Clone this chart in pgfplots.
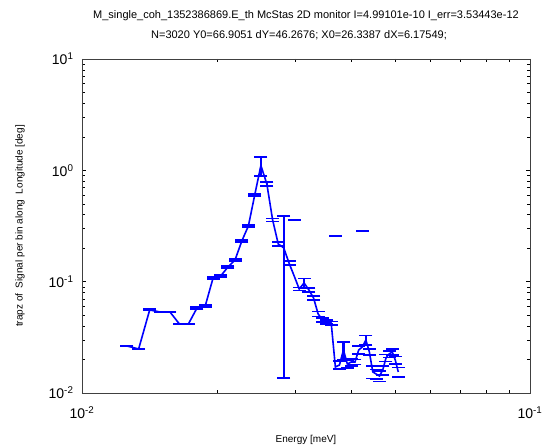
\documentclass[border=0pt]{standalone}
\usepackage{fontspec}
\setmainfont{Liberation Sans}
\usepackage{pgfplots}
\pgfplotsset{compat=1.18}
\usepackage{pgfplotstable}

\pgfplotstableread{
E v e
0.01260 0.02644 0.0003
0.01338 0.02485 0.0003
0.01416 0.05568 0.0008
0.01494 0.05343 0.0007
0.01572 0.05343 0.0007
0.01650 0.04168 0.0005
0.01728 0.04168 0.0005
0.01806 0.05803 0.0015
0.01884 0.06047 0.0012
0.01962 0.1080 0.002
0.02040 0.1125 0.002
0.02118 0.1356 0.003
0.02196 0.1567 0.003
0.02274 0.2321 0.004
0.02352 0.3166 0.005
0.02430 0.6012 0.010
0.02508 1.105 0.214
0.02586 0.7548 0.030
0.02664 0.3584 0.012
0.02742 0.2182 0.008
0.02820 0.2015 0.1878
0.02898 0.1472 0.006
0.02976 0.1125 0.2459
0.03054 0.0860 0.003
0.03132 0.0973 0.0095
0.03210 0.0842 0.003
0.03288 0.0714 0.003
0.03366 0.0513 0.0025
0.03444 0.0453 0.002
0.03522 0.04344 0.002
0.03600 0.04255 0.0015
0.03678 0.01713 0.2403
0.03756 0.01784 0.0015
0.03834 0.02434 0.0045
0.03912 0.01822 0.0015
0.03990 0.01899 0.0015
0.04068 0.01899 0.001
0.04146 0.02434 0.002
0.04224 0.02590 0.2595
0.04302 0.02994 0.003
0.04380 0.02336 0.0015
0.04458 0.01545 0.002
0.04536 0.01482 0.0015
0.04614 0.01421 0.0015
0.04692 0.01609 0.0015
0.04770 0.02063 0.0015
0.04848 0.02241 0.0015
0.04926 0.02336 0.0015
0.05004 0.01979 0.0015
0.05082 0.01545 0.0015
}\mainline

% points whose error is smaller than the value (both caps drawn)
\pgfplotstableread{
E v e
0.01260 0.02644 0.0003
0.01338 0.02485 0.0003
0.01416 0.05568 0.0008
0.01494 0.05343 0.0007
0.01572 0.05343 0.0007
0.01650 0.04168 0.0005
0.01728 0.04168 0.0005
0.01806 0.05803 0.0015
0.01884 0.06047 0.0012
0.01962 0.1080 0.002
0.02040 0.1125 0.002
0.02118 0.1356 0.003
0.02196 0.1567 0.003
0.02274 0.2321 0.004
0.02352 0.3166 0.005
0.02430 0.6012 0.010
0.02508 1.105 0.214
0.02586 0.7548 0.030
0.02664 0.3584 0.012
0.02742 0.2182 0.008
0.02820 0.2015 0.1878
0.02898 0.1472 0.006
0.03054 0.0860 0.003
0.03132 0.0973 0.0095
0.03210 0.0842 0.003
0.03288 0.0714 0.003
0.03366 0.0513 0.0025
0.03444 0.0453 0.002
0.03522 0.04344 0.002
0.03600 0.04255 0.0015
0.03756 0.01784 0.0015
0.03834 0.02434 0.0045
0.03912 0.01822 0.0015
0.03990 0.01899 0.0015
0.04068 0.01899 0.001
0.04146 0.02434 0.002
0.04302 0.02994 0.003
0.04380 0.02336 0.0015
0.04458 0.01545 0.002
0.04536 0.01482 0.0015
0.04614 0.01421 0.0015
0.04692 0.01609 0.0015
0.04770 0.02063 0.0015
0.04848 0.02241 0.0015
0.04926 0.02336 0.0015
0.05004 0.01979 0.0015
0.05082 0.01545 0.0015
}\errs

% vertical extent (v-e, v+e) of the longer error bars
\pgfplotstableread{
E y
0.02508 0.891
0.02508 1.319
nan nan
0.02586 0.7248
0.02586 0.7848
nan nan
0.02820 0.01364
0.02820 0.3893
nan nan
0.03132 0.0878
0.03132 0.1068
nan nan
0.03834 0.01984
0.03834 0.02884
nan nan
0.04302 0.02694
0.04302 0.03294
}\bars

% points whose error exceeds the value: only the upper cap (v+e) shows
\pgfplotstableread{
E u
0.02976 0.3584
0.03678 0.2574
0.04224 0.2854
}\upcaps

\definecolor{mblue}{RGB}{0,0,255}

\begin{document}
\begin{tikzpicture}
\useasboundingbox (0,0) rectangle (553pt,445pt);
\begin{axis}[
  at={(82pt,52pt)}, anchor=south west,
  scale only axis, width=448pt, height=334pt,
  xmode=log, ymode=log,
  xmin=0.01, xmax=0.1, ymin=0.01, ymax=10,
  xtick={0.01,0.1},
  xticklabels={10\textsuperscript{-2},10\textsuperscript{-1}},
  ytick={0.01,0.1,1,10},
  yticklabels={10\textsuperscript{-2},10\textsuperscript{-1},10\textsuperscript{0},10\textsuperscript{1}},
  minor xtick={0.02,0.03,0.04,0.05,0.06,0.07,0.08,0.09},
  minor ytick={0.02,0.03,0.04,0.05,0.06,0.07,0.08,0.09,0.2,0.3,0.4,0.5,0.6,0.7,0.8,0.9,2,3,4,5,6,7,8,9},
  major tick length=4pt, minor tick length=3pt,
  tick style={black, line width=0.5pt},
  axis line style={line width=0.6pt, black!75},
  ticklabel style={font=\fontsize{14}{16}\selectfont},
  xticklabel style={anchor=north, yshift=-10pt},
  yticklabel style={anchor=east, xshift=-5pt},
  xlabel={Energy [meV]},
  xlabel style={at={(axis description cs:0.5,-0.1467)}, anchor=base, font=\fontsize{10}{12}\selectfont},
  ylabel={trapz of\ \ Signal per bin along\ \ Longitude [deg]},
  ylabel style={at={(axis description cs:-0.1384,0.5)}, anchor=center, font=\fontsize{10}{12}\selectfont},
  clip=false,
  unbounded coords=jump,
]
\addplot[mblue, line width=1.6pt, mark=none] table[x=E, y=v] {\mainline};
\addplot[draw=mblue, color=mblue, line width=2.2pt, mark=none, solid] table[x=E, y=y] {\bars};
\addplot[mblue, only marks, mark=-, mark size=6.5pt, mark options={line width=1.6pt}]
  table[x=E, y expr=\thisrow{v}+\thisrow{e}] {\errs};
\addplot[mblue, only marks, mark=-, mark size=6.5pt, mark options={line width=1.6pt}]
  table[x=E, y expr=\thisrow{v}-\thisrow{e}] {\errs};
\addplot[mblue, only marks, mark=-, mark size=6.5pt, mark options={line width=1.6pt}]
  table[x=E, y=u] {\upcaps};
\node[anchor=base, font=\fontsize{11}{13}\selectfont] at (axis description cs:0.5,1.1213)
  {M\_single\_coh\_1352386869.E\_th McStas 2D monitor I=4.99101e-10 I\_err=3.53443e-12};
\node[anchor=base, font=\fontsize{11}{13}\selectfont] at (axis description cs:0.4844,1.0623)
  {N=3020 Y0=66.9051 dY=46.2676; X0=26.3387 dX=6.17549;};
\end{axis}
\end{tikzpicture}
\end{document}
